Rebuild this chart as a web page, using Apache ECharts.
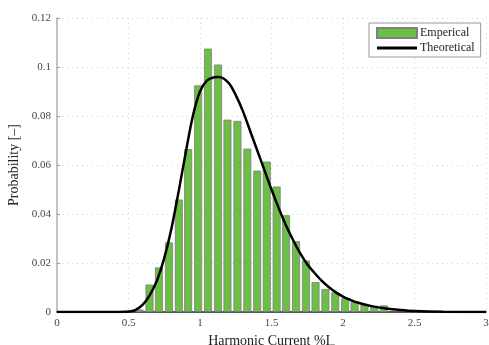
<!DOCTYPE html>
<html>
<head>
<meta charset="utf-8">
<script src="https://cdn.jsdelivr.net/npm/echarts@6/dist/echarts.min.js"></script>
<style>
  html, body { margin: 0; padding: 0; background: #fff; }
  #chart { width: 489px; height: 345px; }
</style>
</head>
<body>
<div id="chart"></div>
<script>
// histogram bins (centre of each bar) and heights
const binCenters = [0.578, 0.647, 0.713, 0.783, 0.852, 0.917, 0.987, 1.056, 1.126, 1.192,
  1.262, 1.331, 1.400, 1.467, 1.536, 1.602, 1.672, 1.741, 1.808, 1.877,
  1.946, 2.015, 2.081, 2.150, 2.218, 2.285]
const empirical = [0.001, 0.0112, 0.0182, 0.0284, 0.0459, 0.0665, 0.0925, 0.1075, 0.1010, 0.0785,
  0.0780, 0.0667, 0.0577, 0.0614, 0.0512, 0.0395, 0.0289, 0.0210, 0.0122, 0.0094,
  0.0080, 0.0056, 0.0044, 0.0030, 0.0023, 0.0027]

// fitted curve
const curveX = [0, 0.4, 0.5, 0.55, 0.6, 0.65, 0.7, 0.75, 0.8, 0.85, 0.9, 0.95, 1.0, 1.05, 1.1, 1.13,
  1.2, 1.25, 1.3, 1.35, 1.4, 1.45, 1.5, 1.55, 1.6, 1.65, 1.7, 1.75, 1.8, 1.85, 1.9, 1.95,
  2.0, 2.05, 2.1, 2.2, 2.3, 2.4, 2.5, 2.7, 3.0]
const curveY = [0, 0, 0.0002, 0.0009, 0.003, 0.007, 0.013, 0.022, 0.034, 0.049, 0.065, 0.080, 0.090, 0.0945, 0.0958, 0.0959,
  0.0935, 0.0885, 0.0820, 0.0740, 0.0660, 0.0580, 0.0500, 0.0425, 0.0355, 0.0295, 0.0240, 0.0195, 0.0160, 0.0128, 0.0102, 0.0080,
  0.0063, 0.0050, 0.0039, 0.0024, 0.0014, 0.0008, 0.0004, 0.0001, 0]

const xTicks = [0, 0.5, 1, 1.5, 2, 2.5, 3]

const serif = '"Liberation Serif", "DejaVu Serif", serif'
const gridLine = { color: '#dcd0d0', type: [1, 4], width: 1 }
const chart = echarts.init(document.getElementById('chart'))

chart.setOption({
  animation: false,
  textStyle: { fontFamily: serif },
  grid: { left: 57, right: 3, top: 18, bottom: 33, outerBoundsMode: 'none', containLabel: false },
  legend: {
    orient: 'vertical',
    left: 369,
    top: 23,
    itemWidth: 40,
    itemHeight: 10,
    itemGap: 3,
    padding: [4, 6, 3, 7],
    borderColor: '#999',
    borderWidth: 1,
    backgroundColor: '#fff',
    textStyle: { fontFamily: serif, fontSize: 12, color: '#222', padding: [0, 0, 0, -2] },
    data: [
      { name: 'Emperical', icon: 'rect' },
      { name: 'Theoretical', icon: 'path://M0,0L40,0L40,3L0,3Z' }
    ]
  },
  xAxis: {
    type: 'value',
    min: 0,
    max: 3,
    interval: 0.5,
    name: 'Harmonic Current %I{s|_}',
    nameLocation: 'middle',
    nameGap: 16,
    nameTextStyle: {
      fontFamily: serif, fontSize: 14, color: '#222',
      rich: { s: { fontFamily: serif, fontSize: 9, color: '#222', padding: [0, 0, -2, 0] } }
    },
    axisLine: { lineStyle: { color: '#222', width: 1.5 } },
    axisTick: { show: false },
    axisLabel: {
      fontSize: 11, color: '#444', margin: 6,
      formatter: v => (xTicks.includes(v) ? String(v) : '')
    },
    splitLine: { show: true, lineStyle: gridLine }
  },
  yAxis: {
    type: 'value',
    min: 0,
    max: 0.12,
    interval: 0.02,
    name: 'Probability [\u2013]',
    nameLocation: 'middle',
    nameGap: 29,
    nameTextStyle: { fontFamily: serif, fontSize: 14, color: '#222' },
    axisLine: { show: true, lineStyle: { color: '#b8ae9c', width: 1.5 } },
    axisTick: { show: true, inside: true, length: 3, lineStyle: { color: '#999' } },
    axisLabel: { fontSize: 11, color: '#444', margin: 6 },
    splitLine: { show: true, lineStyle: gridLine }
  },
  series: [
    {
      name: 'Emperical',
      type: 'bar',
      barWidth: 8,
      data: binCenters.map((x, i) => [x, empirical[i]]),
      itemStyle: { color: '#6cbf45', borderColor: '#7f7f7f', borderWidth: 0.8 }
    },
    {
      name: 'Theoretical',
      type: 'line',
      smooth: 0.3,
      symbol: 'none',
      z: 5,
      data: curveX.map((x, i) => [x, curveY[i]]),
      lineStyle: { color: '#000', width: 2.5 },
      itemStyle: { color: '#000' }
    }
  ]
})

window.addEventListener('resize', () => {
  chart.resize()
})
</script>
</body>
</html>
